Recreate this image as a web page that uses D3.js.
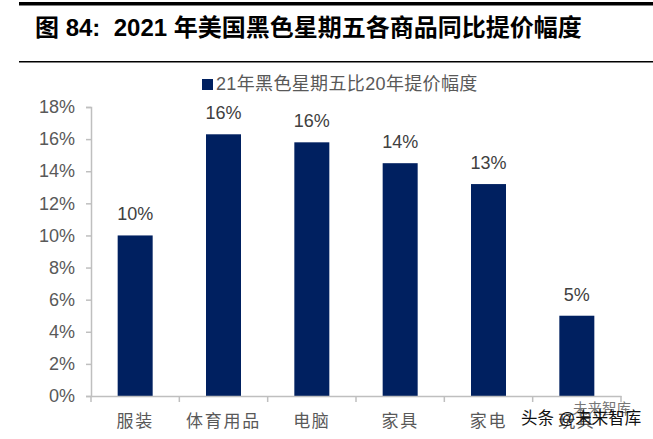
<!DOCTYPE html>
<html><head><meta charset="utf-8">
<script src="https://cdn.jsdelivr.net/npm/d3@7"></script>
<style>html,body{margin:0;padding:0;background:#fff}svg{display:block}</style></head>
<body><svg id="c" width="653" height="439"></svg>
<script>
const categories=["服装","体育用品","电脑","家具","家电","玩具"];
const values=[10,16.3,15.8,14.5,13.2,5];
const valueLabels=["10%","16%","16%","14%","13%","5%"];
const yTicks=[0,2,4,6,8,10,12,14,16,18];
const seriesName="21年黑色星期五比20年提价幅度";
const titleText="图 84:  2021 年美国黑色星期五各商品同比提价幅度";
const F='"Liberation Sans","Noto Sans CJK SC",sans-serif';
const svg=d3.select("#c");
const xOuter=d3.scaleBand().domain(categories).range([91,621]);
const y=d3.scaleLinear().domain([0,18]).range([396,107]);
svg.append("rect").attr("x",19).attr("y",2).attr("width",634).attr("height",3.5).attr("fill","#000");
svg.append("rect").attr("x",19).attr("y",61).attr("width",634).attr("height",1.5).attr("fill","#000");
svg.append("text").attr("x",35).attr("y",36).attr("font-family",F).attr("font-weight","bold").attr("font-size",24).attr("fill","#000").style("white-space","pre").text(titleText);
svg.append("rect").attr("x",202).attr("y",79).attr("width",11).attr("height",11).attr("fill","#002060");
svg.append("text").attr("x",216).attr("y",90).attr("font-family",F).attr("font-size",18).attr("letter-spacing",0.35).attr("fill","#595959").text(seriesName);
svg.selectAll("rect.bar").data(values).join("rect").attr("class","bar")
 .attr("x",(d,i)=>xOuter(categories[i])+xOuter.bandwidth()/2-17.5).attr("width",35)
 .attr("y",d=>y(d)).attr("height",d=>y(0)-y(d)).attr("fill","#002060");
const gy=svg.append("g").attr("transform","translate(91,0)").call(d3.axisLeft(y).tickValues(yTicks).tickSize(5).tickFormat(d=>d+"%"));
gy.selectAll("path,line").attr("stroke","#bfbfbf").attr("stroke-width",1.5);
gy.selectAll("text").attr("font-family",F).attr("font-size",18).attr("fill","#595959").attr("x",-16);
const gx=svg.append("g").attr("transform","translate(0,396)").call(d3.axisBottom(xOuter).tickSize(0).tickFormat(""));
gx.select("path").attr("stroke","#bfbfbf").attr("stroke-width",1.5);
gx.selectAll("line.sep").data(categories.concat("end")).join("line").attr("class","sep")
 .attr("x1",(d,i)=>i<categories.length?xOuter(d):621).attr("x2",(d,i)=>i<categories.length?xOuter(d):621)
 .attr("y1",0).attr("y2",6).attr("stroke","#bfbfbf").attr("stroke-width",1.5);
svg.selectAll("text.cat").data(categories).join("text").attr("class","cat")
 .attr("x",d=>xOuter(d)+xOuter.bandwidth()/2).attr("y",427).attr("text-anchor","middle")
 .attr("font-family",F).attr("font-size",17).attr("letter-spacing",1.7).attr("fill","#595959").text(d=>d);
svg.selectAll("text.val").data(values).join("text").attr("class","val")
 .attr("x",(d,i)=>xOuter(categories[i])+xOuter.bandwidth()/2).attr("y",d=>y(d)-15).attr("text-anchor","middle")
 .attr("font-family",F).attr("font-size",18).attr("fill","#404040").text((d,i)=>valueLabels[i]);
svg.append("text").attr("x",573).attr("y",414).attr("font-family",F).attr("font-size",14.5).attr("fill","#777").text("未来智库");
svg.append("text").attr("x",521).attr("y",424).attr("font-family",F).attr("font-size",16.5).attr("fill","#111").text("头条 @未来智库");
</script></body></html>
